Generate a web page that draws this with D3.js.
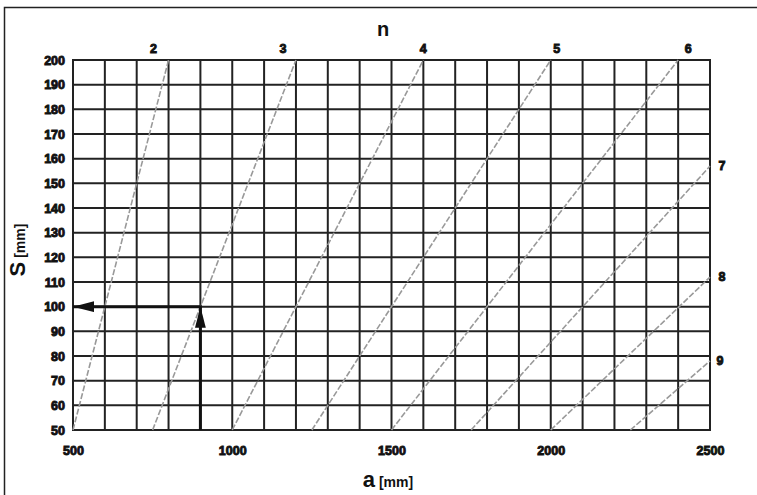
<!DOCTYPE html>
<html>
<head>
<meta charset="utf-8">
<script src="https://cdn.jsdelivr.net/npm/d3@7/dist/d3.min.js"></script>
<style>
  body { margin: 0; background: #fff; }
  svg { display: block; }
  .tick-label { font-family: "Liberation Sans", Arial, sans-serif; font-weight: bold; font-size: 12.5px; fill: #111; stroke: #111; stroke-width: 0.9px; }
</style>
</head>
<body>
<div id="chart-area"></div>
<script>
// chart values
var xTickLabels = [500, 1000, 1500, 2000, 2500]
var yTickLabels = [50, 60, 70, 80, 90, 100, 110, 120, 130, 140, 150, 160, 170, 180, 190, 200]
var nNames = ["2", "3", "4", "5", "6", "7", "8", "9"]
var lineStartA = [500, 750, 1000, 1250, 1500, 1750, 2000, 2250]
var lineStartS = [50, 50, 50, 50, 50, 50, 50, 50]
var lineEndA = [800, 1200, 1600, 2000, 2400, 2500, 2500, 2500]
var lineEndS = [200, 200, 200, 200, 200, 157, 112, 78]
// example reading: a = 900 -> S = 100
var exampleA = 900
var exampleS = 100

var W = 757, H = 495
var margin = {top: 60, right: 47, bottom: 65, left: 73}
var width = W - margin.left - margin.right
var height = H - margin.top - margin.bottom

var x = d3.scaleLinear().domain([500, 2500]).range([0, width])
var y = d3.scaleLinear().domain([50, 200]).range([height, 0])

var svg = d3.select("#chart-area").append("svg")
    .attr("width", W)
    .attr("height", H)

// frame (top + left)
svg.append("path")
    .attr("d", "M4.5,495 L4.5,7.5 L757,7.5")
    .attr("fill", "none")
    .attr("stroke", "#222")
    .attr("stroke-width", 1.5)

var defs = svg.append("defs")
defs.append("marker")
    .attr("id", "arrow")
    .attr("viewBox", "0 0 20 10")
    .attr("preserveAspectRatio", "none")
    .attr("refX", 20).attr("refY", 5)
    .attr("markerWidth", 7).attr("markerHeight", 3.6)
    .attr("markerUnits", "strokeWidth")
    .attr("orient", "auto")
  .append("path")
    .attr("d", "M0,0 L20,5 L0,10 Z")
    .attr("fill", "#111")

var g = svg.append("g")
    .attr("transform", "translate(" + margin.left + "," + margin.top + ")")

// grid
g.append("g").selectAll("line.v")
    .data(x.ticks(20))
    .enter().append("line")
    .attr("x1", function(d){ return x(d) })
    .attr("x2", function(d){ return x(d) })
    .attr("y1", 0).attr("y2", height)
    .attr("stroke", "#222").attr("stroke-width", 2)

g.append("g").selectAll("line.h")
    .data(y.ticks(15))
    .enter().append("line")
    .attr("y1", function(d){ return y(d) })
    .attr("y2", function(d){ return y(d) })
    .attr("x1", -1).attr("x2", width + 1)
    .attr("stroke", "#222").attr("stroke-width", 2)

// axes labels (no domain / ticks lines)
var xAxisCall = d3.axisBottom(x).tickValues(xTickLabels).tickSize(0).tickPadding(16)
    .tickFormat(function(d){ return d })
var yAxisCall = d3.axisLeft(y).tickValues(yTickLabels).tickSize(0).tickPadding(8)

var xa = g.append("g")
    .attr("transform", "translate(0," + height + ")")
    .call(xAxisCall)
xa.select(".domain").remove()
xa.selectAll("text").attr("class", "tick-label")

var ya = g.append("g").call(yAxisCall)
ya.select(".domain").remove()
ya.selectAll("text").attr("class", "tick-label")

// n lines
var lines = nNames.map(function(n, i){
    return {n: n, pts: [[lineStartA[i], lineStartS[i]], [lineEndA[i], lineEndS[i]]]}
})
var lineGen = d3.line()
    .x(function(d){ return x(d[0]) })
    .y(function(d){ return y(d[1]) })

g.append("g").selectAll("path")
    .data(lines)
    .enter().append("path")
    .attr("d", function(d){ return lineGen(d.pts) })
    .attr("fill", "none")
    .attr("stroke", "#999")
    .attr("stroke-width", 1.6)
    .attr("stroke-dasharray", "6,2")

// line labels
var labelShift = [-15, -13, 0, 6, 10, 12, 12, 10]
g.append("g").selectAll("text")
    .data(lines)
    .enter().append("text")
    .attr("class", "tick-label")
    .attr("x", function(d, i){ return x(d.pts[1][0]) + labelShift[i] })
    .attr("y", function(d){ return d.pts[1][1] >= 200 ? y(200) - 7 : y(d.pts[1][1]) + 4 })
    .attr("text-anchor", "middle")
    .text(function(d){ return d.n })

// example arrows
g.append("line")
    .attr("x1", x(exampleA)).attr("y1", y(50))
    .attr("x2", x(exampleA)).attr("y2", y(exampleS))
    .attr("stroke", "#111").attr("stroke-width", 3)
    .attr("marker-end", "url(#arrow)")
g.append("line")
    .attr("x1", x(exampleA) + 1.5).attr("y1", y(exampleS))
    .attr("x2", x(500)).attr("y2", y(exampleS))
    .attr("stroke", "#111").attr("stroke-width", 3)
    .attr("marker-end", "url(#arrow)")

// titles
svg.append("text")
    .attr("x", 383).attr("y", 36)
    .attr("text-anchor", "middle")
    .attr("font-family", "Liberation Sans, Arial, sans-serif")
    .attr("font-weight", "bold").attr("font-size", 20)
    .attr("fill", "#111")
    .text("n")

var xt = svg.append("text")
    .attr("x", 388).attr("y", 487)
    .attr("text-anchor", "middle")
    .attr("font-family", "Liberation Sans, Arial, sans-serif")
    .attr("font-weight", "bold")
    .attr("fill", "#111")
xt.append("tspan").attr("font-size", 22).text("a")
xt.append("tspan").attr("font-size", 14).text(" [mm]")

var yt = svg.append("text")
    .attr("transform", "translate(25,250) rotate(-90)")
    .attr("text-anchor", "middle")
    .attr("font-family", "Liberation Sans, Arial, sans-serif")
    .attr("font-weight", "bold")
    .attr("fill", "#111")
yt.append("tspan").attr("font-size", 22).text("S")
yt.append("tspan").attr("font-size", 14).text(" [mm]")
</script>
</body>
</html>
